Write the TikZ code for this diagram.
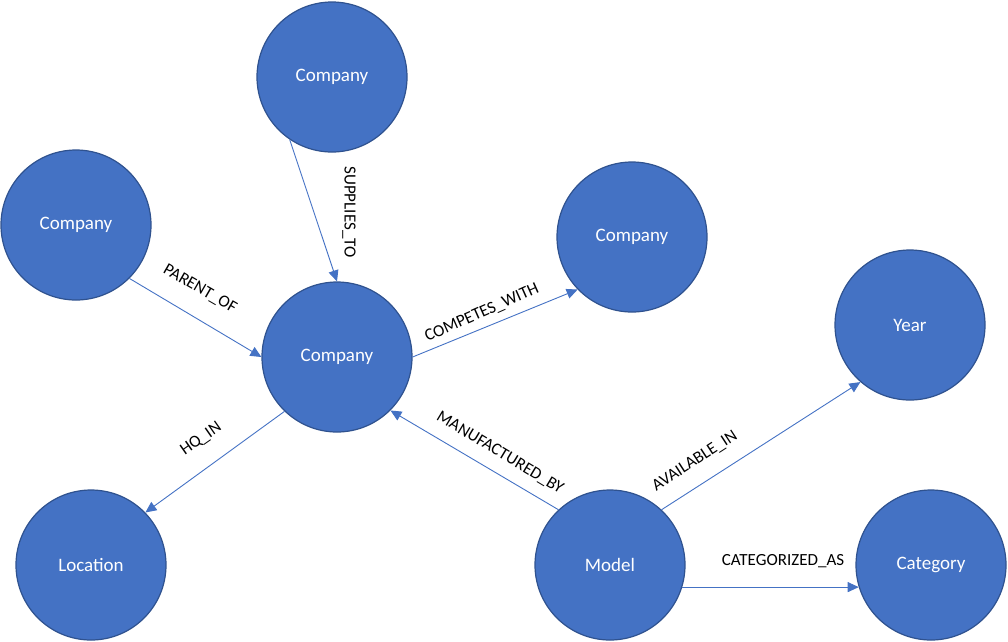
\documentclass[tikz,border=0pt]{standalone}
\usepackage{fontspec}
\setmainfont{Carlito}
\usetikzlibrary{arrows.meta}
\definecolor{nodeblue}{HTML}{4472C4}
\definecolor{rimblue}{HTML}{2F528F}
\begin{document}
\begin{tikzpicture}[x=1pt,y=-1pt,
  entity/.style={circle, fill=nodeblue, draw=rimblue, line width=1.2pt,
    minimum size=150pt, inner sep=0pt, text=white, font=\fontsize{19}{21}\selectfont},
  rel/.style={draw=nodeblue, line width=0.9pt,
    -{Triangle[length=11pt,width=10pt]}},
  lbl/.style={text=black, inner sep=1pt, font=\fontsize{17}{19}\selectfont}]
\useasboundingbox (0,0) rectangle (1008,641);

% entities
\node[entity] (ctop)  at (332,77)  {Company};
\node[entity] (cleft) at (76,225)  {Company};
\node[entity] (cmain) at (337,357) {Company};
\node[entity] (crgt)  at (632,237) {Company};
\node[entity] (year)  at (910,325) {Year};
\node[entity] (loc)   at (91,565)  {Location};
\node[entity] (model) at (610,565) {Model};
\node[entity] (cat)   at (931,565) {Category};

% relationships
\draw[rel] (ctop.236)   -- (cmain.90);
\draw[rel] (cleft.315)  -- (cmain.180);
\draw[rel] (cmain.0)    -- (crgt.224);
\draw[rel] (model.133)  -- (cmain.315);
\draw[rel] (model.47.5) -- (year.229);
\draw[rel] (model.-17)  -- (cat.197);
\draw[rel] (cmain.226.5) -- (loc.44.5);

% relationship labels
\node[lbl, rotate=-90] (lsup) at (349,212) {SUPPLIES\_TO};
\node[lbl, rotate=-30] (lpar) at (200,289) {PARENT\_OF};
\node[lbl, rotate=24]  (lcmp) at (482,313) {COMPETES\_WITH};
\node[lbl, rotate=-31] (lman) at (500,453) {MANUFACTURED\_BY};
\node[lbl, rotate=33]  (lava) at (695,461) {AVAILABLE\_IN};
\node[lbl]             (lcat) at (783,561) {CATEGORIZED\_AS};
\node[lbl, rotate=35]  (lhq)  at (201,439) {HQ\_IN};
\end{tikzpicture}
\end{document}
